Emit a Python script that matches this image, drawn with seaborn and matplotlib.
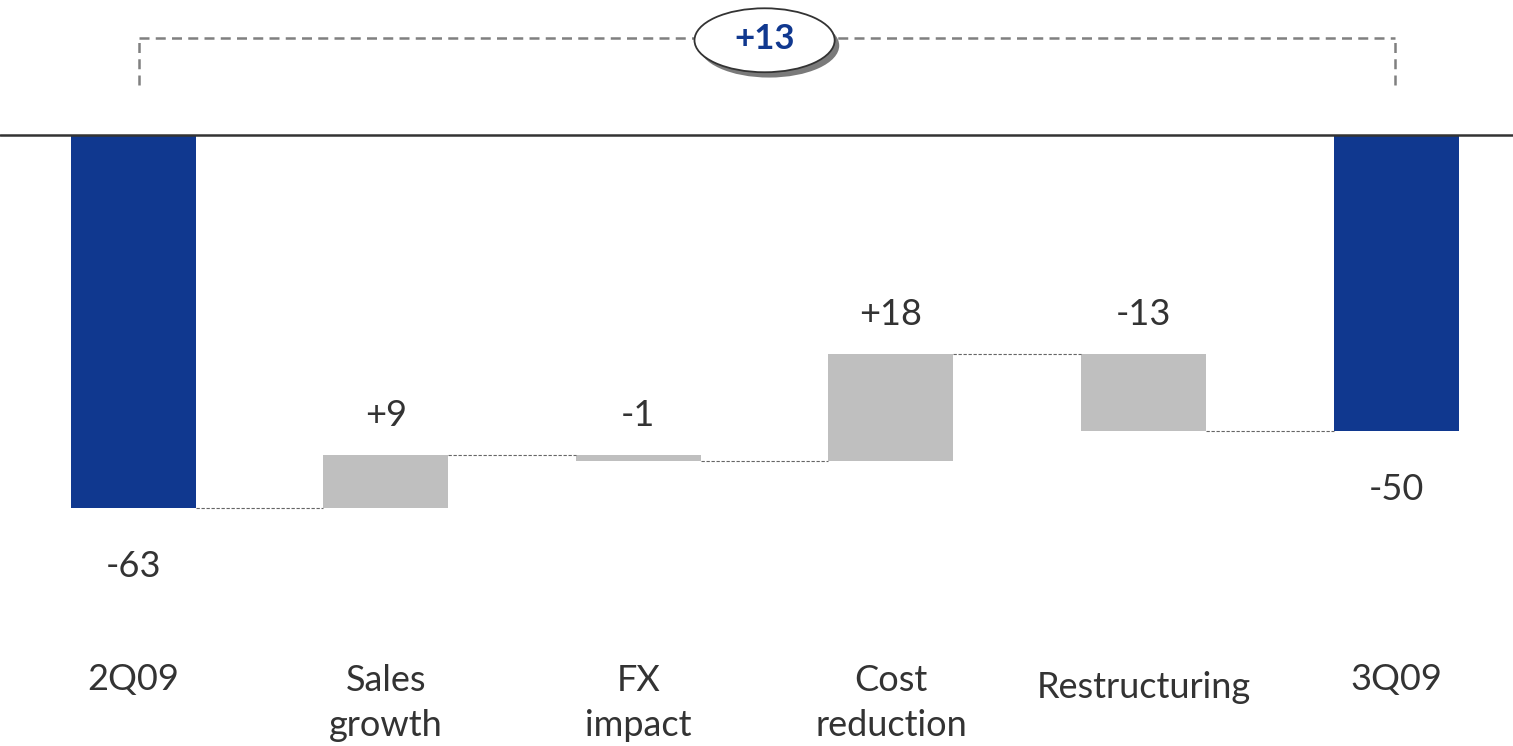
import numpy as np
import pandas as pd
import matplotlib
matplotlib.use("Agg")
import matplotlib.pyplot as plt
from matplotlib.patches import Ellipse
import seaborn as sns

# Waterfall data (EBIT bridge)
categories = ["2Q09", "Sales\ngrowth", "FX\nimpact", "Cost\nreduction", "Restructuring", "3Q09"]
start_value = -63
deltas = [9, -1, 18, -13]
end_value = -50
total_change = "+13"

NAVY = "#10388F"
GREY = "#BFBFBF"
TEXT = "#333333"

sns.set_theme(style="white")
plt.rcParams["font.family"] = ["Lato", "DejaVu Sans"]

# bar extents
levels = [start_value]
for d in deltas:
    levels.append(levels[-1] + d)
lows, highs = [min(0, start_value)], [max(0, start_value)]
for i, d in enumerate(deltas):
    a, b = levels[i], levels[i + 1]
    lows.append(min(a, b)); highs.append(max(a, b))
lows.append(min(0, end_value)); highs.append(max(0, end_value))
lows = np.array(lows, float); highs = np.array(highs, float)

df = pd.DataFrame({"cat": categories, "span": highs - lows})
colors = [NAVY] + [GREY] * len(deltas) + [NAVY]

fig = plt.figure(figsize=(15.13, 7.46), dpi=100)
ax = fig.add_axes([0, 0, 1, 1])
sns.barplot(data=df, x="cat", y="span", bottom=lows, width=0.495,
            color=GREY, ax=ax, errorbar=None, linewidth=0, saturation=1)
for p, c in zip(ax.patches, colors):
    p.set_facecolor(c)
    p.set_edgecolor("none")

ax.set_xlim(-0.527, 5.463)
ax.set_ylim(-103.2, 22.8)
ax.axis("off")

# zero line
ax.axhline(0, color="#333333", lw=1.8, zorder=3)

# connectors between consecutive bars
hw = 0.495 / 2
conn = [start_value] + levels[1:]
for i, lv in enumerate(conn):
    ax.plot([i + hw, i + 1 - hw], [lv, lv], color="#666666", lw=0.8,
            dashes=(3, 1.5), zorder=2)

# value labels
labels = [str(start_value)] + [f"{d:+d}" for d in deltas] + [str(end_value)]
for i, lab in enumerate(labels):
    if i in (0, len(labels) - 1):
        y = lows[i] - 9.8
    else:
        y = highs[i] + 6.6
    ax.text(i, y, lab, ha="center", va="center", fontsize=26, color=TEXT)

# category labels
for i, cat in enumerate(categories):
    if "\n" in cat:
        ax.text(i, -96.0, cat, ha="center", va="center", fontsize=26,
                color=TEXT, linespacing=1.45)
    else:
        yy = -93.4 if cat == "Restructuring" else -92.0
        ax.text(i, yy, cat, ha="center", va="center", fontsize=26, color=TEXT)

# bracket with total change bubble
bx0, bx1 = 0.024, 4.996
by, bb = 16.4, 8.5
kw = dict(color="#808080", lw=1.8, dashes=(4, 2.5), zorder=4)
ax.plot([bx0, bx0], [bb, by], **kw)
ax.plot([bx1, bx1], [bb, by], **kw)
ax.plot([bx0, bx1], [by, by], **kw)
cx, cy = 2.5, 16.0
ax.add_patch(Ellipse((cx + 0.018, cy - 0.9), 0.555, 10.8, facecolor="#7a7a7a",
                     edgecolor="none", zorder=5))
ax.add_patch(Ellipse((cx, cy), 0.555, 10.8, facecolor="white",
                     edgecolor="#333333", lw=1.3, zorder=6))
ax.text(cx, cy + 0.2, total_change, ha="center", va="center", fontsize=25,
        fontweight="bold", color=NAVY, zorder=7)

fig.savefig("out.png", dpi=100)
